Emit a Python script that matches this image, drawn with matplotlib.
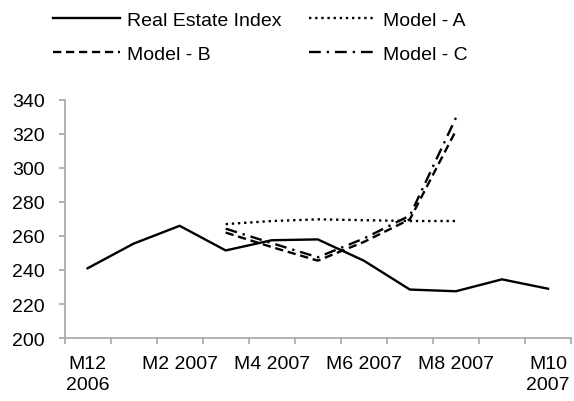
import matplotlib.pyplot as plt
import numpy as np

plt.rcParams['font.family'] = ['Liberation Sans', 'DejaVu Sans']

# Monthly categories M12 2006 .. M10 2007
months = ["M12 2006", "M1 2007", "M2 2007", "M3 2007", "M4 2007", "M5 2007",
          "M6 2007", "M7 2007", "M8 2007", "M9 2007", "M10 2007"]
tick_labels = ["M12\n2006", "M2 2007", "M4 2007", "M6 2007", "M8 2007", "M10\n2007"]

real_estate = [241, 255.5, 266, 251.5, 257.5, 258, 245.5, 228.5, 227.5, 234.5, 229]

# models run from M3 2007 to M8 2007
model_start = 3
model_a = [267, 268.8, 269.8, 269.3, 268.8, 268.8]
model_b = [262, 253.5, 245.5, 256.5, 269.8, 322]
model_c = [264.3, 255.8, 247.5, 258.5, 272, 329.5]

fig = plt.figure(figsize=(5.74, 4.02), dpi=100)
ax = fig.add_axes([0.1124, 0.1567, 0.8824, 0.5921])

x = np.arange(len(months))
xm = np.arange(model_start, model_start + len(model_a))

lw = 1.7
l_real, = ax.plot(x, real_estate, color='black', lw=lw, label='Real Estate Index')
l_a, = ax.plot(xm, model_a, color='black', lw=lw, linestyle=(0, (1, 1.6)), label='Model - A')
l_b, = ax.plot(xm, model_b, color='black', lw=lw, linestyle=(0, (3.5, 2)), label='Model - B')
l_c, = ax.plot(xm, model_c, color='black', lw=lw, linestyle=(0, (5, 2.5, 1, 2.5)), label='Model - C')

ax.set_xlim(-0.5, len(months) - 0.5)
ax.set_ylim(200, 340)
ax.set_yticks(np.arange(200, 341, 20))
ax.set_xticks(x[::2])
ax.set_xticklabels(tick_labels, va='top', linespacing=1.3)
ax.set_xticks(np.arange(-0.5, len(months), 1), minor=True)

gray = '#A6A6A6'
for s in ['top', 'right']:
    ax.spines[s].set_visible(False)
for s in ['left', 'bottom']:
    ax.spines[s].set_color(gray)
    ax.spines[s].set_linewidth(1.2)

ax.tick_params(axis='x', which='major', length=0, pad=12, labelsize=14)
ax.tick_params(axis='x', which='minor', length=4, color=gray, width=1.2)
ax.tick_params(axis='y', length=4, color=gray, width=1.2, labelsize=14, pad=10)

# column-major fill -> rows: Real/A, B/C
fig.legend([l_real, l_b, l_a, l_c],
           ['Real Estate Index', 'Model - B', 'Model - A', 'Model - C'],
           loc='upper left', bbox_to_anchor=(0.076, 0.994), ncol=2, frameon=False,
           borderpad=0, fontsize=14, handlelength=3.45, handletextpad=0.35,
           columnspacing=1.4, labelspacing=0.85)

fig.savefig('out.png', dpi=100)
